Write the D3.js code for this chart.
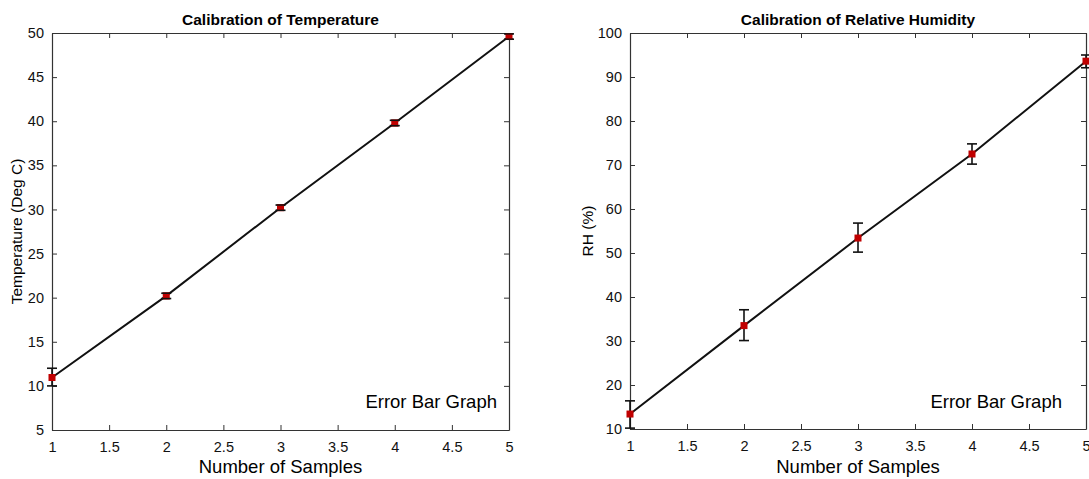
<!DOCTYPE html>
<html>
<head>
<meta charset="utf-8">
<script src="https://cdn.jsdelivr.net/npm/d3@7"></script>
<style>
  body { margin: 0; background: #fff; }
  svg { font-family: "Liberation Sans", Arial, sans-serif; }
</style>
</head>
<body>
<div class="container"></div>
<script>
// sample numbers
const samples = [1, 2, 3, 4, 5]
// temperature chart
const tempValues = [10.95, 20.2, 30.2, 39.8, 49.6]
const tempLow = [10.0, 19.9, 29.9, 39.5, 49.3]
const tempHigh = [12.0, 20.5, 30.5, 40.1, 49.9]
const tempTicks = [5, 10, 15, 20, 25, 30, 35, 40, 45, 50]
// humidity chart
const rhValues = [13.4, 33.5, 53.4, 72.5, 93.6]
const rhLow = [10.2, 30.1, 50.2, 70.2, 92.1]
const rhHigh = [16.4, 37.1, 56.8, 74.8, 95.0]
const rhTicks = [10, 20, 30, 40, 50, 60, 70, 80, 90, 100]
const xTicks = [1, 1.5, 2, 2.5, 3, 3.5, 4, 4.5, 5]

const w = 1089
const h = 479

const svg = d3.select(".container")
  .append("svg")
  .attr("width", w)
  .attr("height", h)

const drawPanel = (opts) => {
  const { left, right, top, bottom, yDomain, yTicks, values, low, high, title, yLabel, yLabelX, noteRight } = opts

  const xScale = d3.scaleLinear().domain([1, 5]).range([left, right])
  const yScale = d3.scaleLinear().domain(yDomain).range([bottom, top])

  const g = svg.append("g")

  // box with inward ticks on all four sides
  const bottomAxis = d3.axisBottom(xScale).tickValues(xTicks).tickSizeInner(-5).tickSizeOuter(0).tickPadding(12).tickFormat(d3.format("~g"))
  const topAxis = d3.axisTop(xScale).tickValues(xTicks).tickSizeInner(-5).tickSizeOuter(0).tickFormat("")
  const leftAxis = d3.axisLeft(yScale).tickValues(yTicks).tickSizeInner(-5).tickSizeOuter(0).tickPadding(8)
  const rightAxis = d3.axisRight(yScale).tickValues(yTicks).tickSizeInner(-5).tickSizeOuter(0).tickFormat("")

  g.append("g").attr("transform", "translate(0," + bottom + ")").call(bottomAxis)
  g.append("g").attr("transform", "translate(0," + top + ")").call(topAxis)
  g.append("g").attr("transform", "translate(" + left + ",0)").call(leftAxis)
  g.append("g").attr("transform", "translate(" + right + ",0)").call(rightAxis)

  g.selectAll(".tick line").attr("stroke", "#333")
  g.selectAll(".domain").attr("stroke", "#333").attr("stroke-width", 1.2)
  g.selectAll(".tick text").attr("fill", "#111").style("font-size", "14.5px")

  // line through the points
  const line = d3.line().x((d, i) => xScale(samples[i])).y(d => yScale(d))
  g.append("path")
    .datum(values)
    .attr("d", line)
    .attr("fill", "none")
    .attr("stroke", "#111")
    .attr("stroke-width", 2)

  // error bars
  samples.forEach((s, i) => {
    const x = xScale(s)
    g.append("line").attr("x1", x).attr("x2", x).attr("y1", yScale(low[i])).attr("y2", yScale(high[i]))
      .attr("stroke", "#111").attr("stroke-width", 1.6)
    ;[low[i], high[i]].forEach(v => {
      g.append("line").attr("x1", x - 5).attr("x2", x + 5).attr("y1", yScale(v)).attr("y2", yScale(v))
        .attr("stroke", "#111").attr("stroke-width", 1.6)
    })
  })

  g.selectAll("rect.pt")
    .data(values)
    .enter()
    .append("rect")
    .attr("class", "pt")
    .attr("x", (d, i) => xScale(samples[i]) - 3.5)
    .attr("y", d => yScale(d) - 3.5)
    .attr("width", 7)
    .attr("height", 7)
    .attr("fill", "#c00000")

  // caps drawn again over the squares (temperature bars are tiny)
  samples.forEach((s, i) => {
    const x = xScale(s)
    ;[low[i], high[i]].forEach(v => {
      if (Math.abs(yScale(v) - yScale(values[i])) < 4) {
        g.append("line").attr("x1", x - 4).attr("x2", x + 4).attr("y1", yScale(v)).attr("y2", yScale(v))
          .attr("stroke", "#111").attr("stroke-width", 1.4)
      }
    })
  })

  g.append("text")
    .attr("x", (left + right) / 2)
    .attr("y", 25)
    .attr("text-anchor", "middle")
    .style("font-size", "15.5px")
    .style("font-weight", "bold")
    .text(title)

  g.append("text")
    .attr("x", (left + right) / 2)
    .attr("y", 473)
    .attr("text-anchor", "middle")
    .style("font-size", "18.5px")
    .text("Number of Samples")

  g.append("text")
    .attr("transform", "rotate(-90)")
    .attr("x", -(top + bottom) / 2)
    .attr("y", yLabelX)
    .attr("text-anchor", "middle")
    .style("font-size", "15.5px")
    .text(yLabel)

  g.append("text")
    .attr("x", noteRight)
    .attr("y", 408)
    .attr("text-anchor", "end")
    .style("font-size", "18.5px")
    .text("Error Bar Graph")
}

drawPanel({
  left: 52, right: 509, top: 33, bottom: 430,
  yDomain: [5, 50], yTicks: tempTicks,
  values: tempValues, low: tempLow, high: tempHigh,
  title: "Calibration of Temperature",
  yLabel: "Temperature (Deg C)", yLabelX: 22, noteRight: 497
})

drawPanel({
  left: 630, right: 1086, top: 33, bottom: 429,
  yDomain: [10, 100], yTicks: rhTicks,
  values: rhValues, low: rhLow, high: rhHigh,
  title: "Calibration of Relative Humidity",
  yLabel: "RH (%)", yLabelX: 593, noteRight: 1062
})
</script>
</body>
</html>
